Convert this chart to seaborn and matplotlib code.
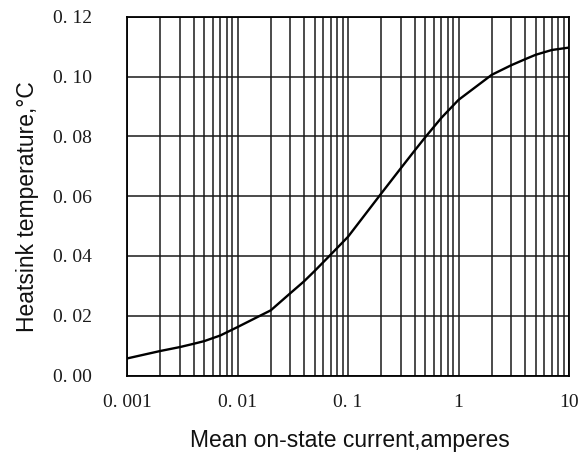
import numpy as np
import pandas as pd
import matplotlib
matplotlib.use("Agg")
import matplotlib.pyplot as plt
from matplotlib.ticker import FixedLocator, FixedFormatter, LogLocator, NullFormatter
import seaborn as sns

# ---- data ----
current = [0.001, 0.002, 0.003, 0.004, 0.005, 0.007, 0.01, 0.02, 0.03, 0.04, 0.05,
           0.07, 0.1, 0.2, 0.3, 0.4, 0.5, 0.7, 1, 2, 3, 4, 5, 7, 10]
temperature = [0.0057, 0.0082, 0.0095, 0.0106, 0.0115, 0.0134, 0.0162, 0.0218, 0.0275,
               0.0315, 0.0350, 0.0405, 0.0464, 0.0609, 0.0693, 0.0752, 0.0797, 0.0862,
               0.0922, 0.1006, 0.1038, 0.1058, 0.1073, 0.1089, 0.1097]

x_ticks = [0.001, 0.01, 0.1, 1, 10]
x_tick_labels = ["0. 001", "0. 01", "0. 1", "1", "10"]
y_ticks = [0.00, 0.02, 0.04, 0.06, 0.08, 0.10, 0.12]
y_tick_labels = ["0. 00", "0. 02", "0. 04", "0. 06", "0. 08", "0. 10", "0. 12"]

x_label = "Mean on-state current,amperes"
y_label = "Heatsink temperature,°C"

df = pd.DataFrame({"current": current, "temperature": temperature})

sns.set_style("white")
plt.rcParams["font.family"] = ["Liberation Sans", "DejaVu Sans"]

fig = plt.figure(figsize=(5.78, 4.57), dpi=100)
ax = fig.add_axes([127 / 578, 1 - 375.5 / 457, (569 - 127) / 578, (375.5 - 16.8) / 457])

sns.lineplot(data=df, x="current", y="temperature", ax=ax, color="black",
             linewidth=1.7, zorder=5)

ax.set_xscale("log")
ax.set_xlim(0.001, 10)
ax.set_ylim(0, 0.12)

ax.xaxis.set_major_locator(FixedLocator(x_ticks))
ax.xaxis.set_major_formatter(FixedFormatter(x_tick_labels))
ax.xaxis.set_minor_locator(LogLocator(base=10, subs=np.arange(2, 10)))
ax.xaxis.set_minor_formatter(NullFormatter())
ax.yaxis.set_major_locator(FixedLocator(y_ticks))
ax.yaxis.set_major_formatter(FixedFormatter(y_tick_labels))

ax.grid(True, which="both", axis="x", color="#1a1a1a", linewidth=1.1)
ax.grid(True, which="major", axis="y", color="#1a1a1a", linewidth=1.1)

for s in ax.spines.values():
    s.set_color("black")
    s.set_linewidth(1.3)

ax.tick_params(axis="both", which="both", length=0)
ax.tick_params(axis="y", pad=25)
ax.tick_params(axis="x", pad=13)
for lab in ax.get_xticklabels() + ax.get_yticklabels():
    lab.set_fontfamily(["Liberation Serif", "DejaVu Serif"])
    lab.set_fontsize(14)
    lab.set_color("#1a1a1a")

ax.set_xlabel("")
ax.set_ylabel("")
fig.text(350 / 578, 1 - 440 / 457, x_label, ha="center", va="center", fontsize=16.5,
         color="#111111")
fig.text(28 / 578, 1 - 207 / 457, y_label, ha="center", va="center", rotation=90,
         fontsize=16.5, color="#111111")

fig.savefig("out.png", dpi=100)
